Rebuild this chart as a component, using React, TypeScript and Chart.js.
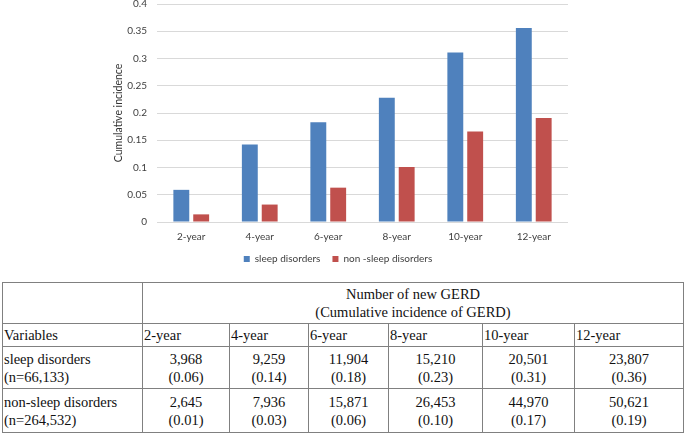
import { useEffect, useRef } from "react";
import Chart from "chart.js/auto";

const years = ["2-year", "4-year", "6-year", "8-year", "10-year", "12-year"];
const sleepIncidence = [0.059, 0.142, 0.183, 0.228, 0.311, 0.356];
const nonSleepIncidence = [0.014, 0.032, 0.063, 0.101, 0.166, 0.191];
const yTicks = [0, 0.05, 0.1, 0.15, 0.2, 0.25, 0.3, 0.35, 0.4];

const sleepCounts = ["3,968", "9,259", "11,904", "15,210", "20,501", "23,807"];
const sleepRates = ["(0.06)", "(0.14)", "(0.18)", "(0.23)", "(0.31)", "(0.36)"];
const nonSleepCounts = ["2,645", "7,936", "15,871", "26,453", "44,970", "50,621"];
const nonSleepRates = ["(0.01)", "(0.03)", "(0.06)", "(0.10)", "(0.17)", "(0.19)"];

const colWidths = [140, 87, 79, 80, 94, 92, 109];

function IncidenceChart() {
    const canvasRef = useRef<HTMLCanvasElement | null>(null);

    useEffect(() => {
        if (!canvasRef.current) {
            return;
        }

        const font = { family: "Lato", size: 10 };
        const chart = new Chart(canvasRef.current, {
            type: "bar",
            data: {
                labels: years,
                datasets: [
                    {
                        label: "sleep disorders",
                        data: sleepIncidence,
                        backgroundColor: "#4F81BD",
                        categoryPercentage: 0.58,
                        barPercentage: 0.8,
                    },
                    {
                        label: "non -sleep disorders",
                        data: nonSleepIncidence,
                        backgroundColor: "#C0504D",
                        categoryPercentage: 0.58,
                        barPercentage: 0.8,
                    },
                ],
            },
            options: {
                animation: false,
                responsive: false,
                maintainAspectRatio: false,
                layout: { padding: { right: 2, top: 0 } },
                plugins: {
                    tooltip: { enabled: false },
                    legend: {
                        position: "bottom",
                        labels: {
                            boxWidth: 6,
                            boxHeight: 6,
                            padding: 12,
                            color: "#404040",
                            font,
                        },
                    },
                },
                scales: {
                    x: {
                        afterFit: (scale) => {
                            scale.height -= 10;
                        },
                        grid: { display: false, drawTicks: false },
                        border: { display: false },
                        ticks: { color: "#404040", font, padding: 9 },
                    },
                    y: {
                        min: 0,
                        max: 0.4,
                        afterFit: (scale) => {
                            scale.width = 49;
                        },
                        afterBuildTicks: (scale) => {
                            scale.ticks = yTicks.map((v) => ({ value: v }));
                        },
                        grid: { color: "#D9D9D9", drawTicks: false },
                        border: { display: false },
                        ticks: {
                            color: "#404040",
                            font,
                            padding: 10,
                            callback: (v) => String(+Number(v).toFixed(2)),
                        },
                        title: {
                            display: true,
                            text: "Cumulative incidence",
                            color: "#333333",
                            font: { family: "Lato", size: 10.5 },
                            padding: { top: 4, bottom: 0 },
                        },
                    },
                },
            },
        });

        return () => chart.destroy();
    }, []);

    return (
        <div style={{ position: "absolute", left: 108, top: -12, width: 462, height: 286 }}>
            <canvas ref={canvasRef} width={462} height={286} style={{ width: 462, height: 286 }} />
        </div>
    );
}

function ResultsTable() {
    const cell = {
        borderLeft: "1px solid #808080",
        borderTop: "1px solid #808080",
        padding: "0 1px",
        verticalAlign: "middle" as const,
        lineHeight: "18px",
    };
    const num = { ...cell, textAlign: "center" as const };

    return (
        <table
            style={{
                position: "absolute",
                left: 2,
                top: 282,
                borderCollapse: "collapse",
                tableLayout: "fixed",
                width: 682,
                fontFamily: "'Liberation Serif', 'Times New Roman', serif",
                fontSize: 14.5,
                color: "#111",
                borderRight: "1px solid #808080",
                borderBottom: "1px solid #808080",
            }}
        >
            <colgroup>
                {colWidths.map((w, i) => (
                    <col key={i} style={{ width: w }} />
                ))}
            </colgroup>
            <tbody>
                <tr style={{ height: 41 }}>
                    <td style={cell}></td>
                    <td colSpan={6} style={num}>
                        Number of new GERD
                        <br />
                        (Cumulative incidence of GERD)
                    </td>
                </tr>
                <tr style={{ height: 23 }}>
                    <td style={cell}>Variables</td>
                    {years.map((y) => (
                        <td key={y} style={cell}>
                            {y}
                        </td>
                    ))}
                </tr>
                <tr style={{ height: 42 }}>
                    <td style={cell}>
                        sleep disorders
                        <br />
                        (n=66,133)
                    </td>
                    {sleepCounts.map((c, i) => (
                        <td key={i} style={num}>
                            {c}
                            <br />
                            {sleepRates[i]}
                        </td>
                    ))}
                </tr>
                <tr style={{ height: 44 }}>
                    <td style={cell}>
                        non-sleep disorders
                        <br />
                        (n=264,532)
                    </td>
                    {nonSleepCounts.map((c, i) => (
                        <td key={i} style={num}>
                            {c}
                            <br />
                            {nonSleepRates[i]}
                        </td>
                    ))}
                </tr>
            </tbody>
        </table>
    );
}

export default function App() {
    return (
        <div style={{ position: "fixed", left: 0, top: 0, width: 685, height: 434, background: "#fff", overflow: "hidden" }}>
            <IncidenceChart />
            <ResultsTable />
        </div>
    );
}
